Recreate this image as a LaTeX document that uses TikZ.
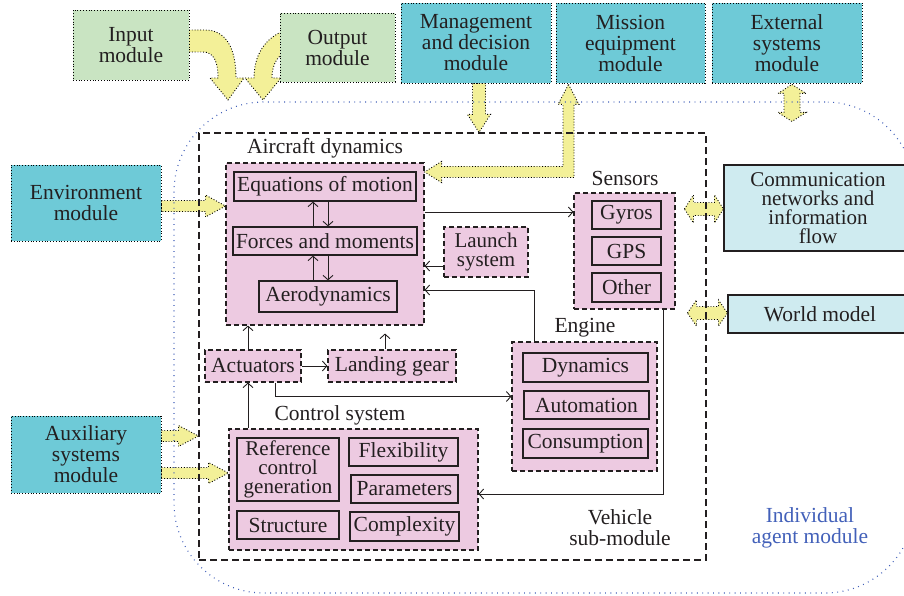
\documentclass[tikz,border=0pt]{standalone}
\usepackage{fontspec}
\setmainfont{Liberation Serif}
\usetikzlibrary{arrows.meta,calc,backgrounds}
\definecolor{modteal}{RGB}{110,202,215}
\definecolor{modgreen}{RGB}{201,228,194}
\definecolor{netblue}{RGB}{207,235,240}
\definecolor{subpink}{RGB}{237,202,225}
\definecolor{fatyellow}{RGB}{243,240,152}
\definecolor{agentblue}{RGB}{66,96,185}
\definecolor{ink}{RGB}{35,31,32}

\tikzset{
  every node/.style={font=\fontsize{21.5}{21}\selectfont, text=ink, align=center, inner sep=0pt},
  sz/.style 2 args={minimum width=#1pt, minimum height=#2pt},
  module/.style={fill=#1, draw=black, line width=0.9pt, dash pattern=on 0.9pt off 1.9pt},
  netbox/.style={fill=netblue, draw=ink, line width=1.1pt},
  group/.style={fill=subpink, draw=ink, line width=1.1pt, dash pattern=on 5pt off 3pt},
  part/.style={fill=subpink, draw=ink, line width=1.2pt},
  vehiclebox/.style={draw=ink, line width=1.1pt, dash pattern=on 7pt off 4pt},
  agentbox/.style={draw=agentblue, line width=1.1pt, dash pattern=on 0.9pt off 4.5pt, rounded corners=90pt},
  fat/.style={fill=fatyellow, draw=black, line width=0.9pt, dash pattern=on 0.9pt off 1.9pt},
  arr/.style={draw=ink, line width=0.9pt, -{Straight Barb[length=4.5pt,width=10pt]}},
  tight/.style={font=\fontsize{21}{19}\selectfont},
}

% broad yellow arrows: #1 start, #2 end, #3 half shaft, #4 half head, #5 head length
\newcommand\fatright[5]{\draw[fat] let \p1=#1, \p2=#2 in
  (\x1,\y1+#3) -- (\x2-#5,\y1+#3) -- (\x2-#5,\y1+#4) -- (\x2,\y1)
  -- (\x2-#5,\y1-#4) -- (\x2-#5,\y1-#3) -- (\x1,\y1-#3) -- cycle;}
\newcommand\fatdown[5]{\draw[fat] let \p1=#1, \p2=#2 in
  (\x1-#3,\y1) -- (\x1-#3,\y2+#5) -- (\x1-#4,\y2+#5) -- (\x1,\y2)
  -- (\x1+#4,\y2+#5) -- (\x1+#3,\y2+#5) -- (\x1+#3,\y1) -- cycle;}
\newcommand\fatboth[5]{\draw[fat] let \p1=#1, \p2=#2 in
  (\x1,\y1) -- (\x1+#5,\y1+#4) -- (\x1+#5,\y1+#3) -- (\x2-#5,\y1+#3)
  -- (\x2-#5,\y1+#4) -- (\x2,\y1) -- (\x2-#5,\y1-#4) -- (\x2-#5,\y1-#3)
  -- (\x1+#5,\y1-#3) -- (\x1+#5,\y1-#4) -- cycle;}
\newcommand\fatupdown[5]{\draw[fat] let \p1=#1, \p2=#2 in
  (\x1,\y1) -- (\x1+#4,\y1-#5) -- (\x1+#3,\y1-#5) -- (\x1+#3,\y2+#5)
  -- (\x1+#4,\y2+#5) -- (\x1,\y2) -- (\x1-#4,\y2+#5) -- (\x1-#3,\y2+#5)
  -- (\x1-#3,\y1-#5) -- (\x1-#4,\y1-#5) -- cycle;}

\begin{document}
\begin{tikzpicture}[x=1pt,y=-1pt]
\useasboundingbox (0,0) rectangle (904,596);

% outer agent frame and the panels cut by the right edge
\begin{scope}
  \clip (0,0) rectangle (904,596);
  \node[agentbox, sz={741}{491}] (agent) at (544.5,347.5) {};
  \node[netbox, sz={188}{86}, tight] (comm) at (818,208) {Communication\\networks and\\information\\flow};
  \node[netbox, sz={184}{38}] (world) at (820,314) {World model};
\end{scope}
\node[text=agentblue] (agentlabel) at (810,528) {Individual\\agent module};

% vehicle sub-module frame
\node[vehiclebox, sz={507}{427}] (vehicle) at (452.5,346.5) {};
\node (vehiclelabel) at (620,528) {Vehicle\\sub-module};

% surrounding modules
\node[module=modgreen, sz={116}{70}] (input) at (131,45) {Input\\module};
\node[module=modgreen, sz={115}{69}] (output) at (337.5,47.5) {Output\\module};
\node[module=modteal, sz={150}{80}] (mgmt) at (476,43) {Management\\and decision\\module};
\node[module=modteal, sz={149}{80}] (mission) at (630.5,43) {Mission\\equipment\\module};
\node[module=modteal, sz={150}{80}] (external) at (787,43) {External\\systems\\module};
\node[module=modteal, sz={150}{76}] (env) at (86,203) {Environment\\module};
\node[module=modteal, sz={150}{77}] (aux) at (86,454.5) {Auxiliary\\systems\\module};

% aircraft dynamics
\node[group, sz={198}{162}] (aircraft) at (325,244) {};
\node (aircraftlabel) at (325,148) {Aircraft dynamics};
\node[part, sz={182}{29}] (eqm) at (325,186.5) {Equations of motion};
\node[part, sz={184}{28}] (forces) at (325,241) {Forces and moments};
\node[part, sz={138}{31}] (aero) at (328,296.5) {Aerodynamics};
\node[group, sz={84}{50}, tight] (launch) at (486,252) {Launch\\system};

% sensors
\node[group, sz={101}{116}] (sensors) at (624.5,251) {};
\node (sensorslabel) at (625,178) {Sensors};
\node[part, sz={69}{28}] (gyros) at (626.5,215) {Gyros};
\node[part, sz={69}{28}] (gps) at (626.5,251) {GPS};
\node[part, sz={69}{29}] (other) at (626.5,287.5) {Other};

% engine
\node[group, sz={145}{129}] (engine) at (584.5,406.5) {};
\node (enginelabel) at (585,328) {Engine};
\node[part, sz={125}{29}] (dyn) at (585.5,367.5) {Dynamics};
\node[part, sz={125}{28}] (autom) at (586.5,405) {Automation};
\node[part, sz={125}{29}] (cons) at (585.5,443.5) {Consumption};

% actuators and landing gear
\node[group, sz={96}{32}] (actuators) at (253,366) {Actuators};
\node[group, sz={128}{32}] (landing) at (392,366) {Landing gear};

% control system
\node[group, sz={249}{121}] (control) at (353.5,489.5) {};
\node (controllabel) at (340,415) {Control system};
\node[part, sz={102}{63}, tight] (refgen) at (288,469.5) {Reference\\control\\generation};
\node[part, sz={109}{28}] (flex) at (403.5,452) {Flexibility};
\node[part, sz={107}{28}] (params) at (404.5,489) {Parameters};
\node[part, sz={102}{28}] (struct) at (288,525) {Structure};
\node[part, sz={109}{29}] (complex) at (404.5,526.5) {Complexity};

% internal signal flow
\draw[arr] ([xshift=-12pt]forces.north) -- ([xshift=-12pt]forces.north |- eqm.south);
\draw[arr] ([xshift=3pt]eqm.south) -- ([xshift=3pt]eqm.south |- forces.north);
\draw[arr] ([xshift=-12pt]forces.south |- aero.north) -- ([xshift=-12pt]forces.south);
\draw[arr] ([xshift=3pt]forces.south) -- ([xshift=3pt]forces.south |- aero.north);
\draw[arr] ([yshift=-14pt]launch.west) -- ([yshift=-14pt]launch.west -| aircraft.east);
\draw[arr] ([yshift=3pt]aircraft.east |- gyros) -- ([yshift=3pt]sensors.west |- gyros);
\draw[arr] ([xshift=-50.5pt]engine.north) |- ([yshift=-46pt]aircraft.east);
\draw[arr] ([xshift=38.5pt]sensors.south) |- ([yshift=-4.5pt]control.east);
\draw[arr] ([xshift=22pt]actuators.south) |- ([yshift=10pt]engine.west);
\draw[arr] (actuators.east) -- (landing.west);
\draw[arr] ([xshift=-5pt]actuators.north) -- ([xshift=-5pt]actuators.north |- aircraft.south);
\draw[arr, shorten >=8pt] ([xshift=-7pt]landing.north) -- ([xshift=-7pt]landing.north |- aircraft.south);
\draw[arr] ([xshift=-5pt]actuators.south |- control.north) -- ([xshift=-5pt]actuators.south);

% broad yellow flows, underneath the frames
\begin{scope}[on background layer]
  \fatright{([yshift=-3pt]env.east)}{(aircraft.west)}{5.5pt}{11pt}{20pt}
  \fatright{([yshift=18.5pt]aux.east)}{(vehicle.west)}{5.5pt}{10.5pt}{20pt}
  \fatright{([yshift=-18.5pt]aux.east)}{(control.west)}{5.5pt}{10.5pt}{20pt}
  \fatdown{([xshift=3pt]mgmt.south)}{(vehicle.north)}{6.5pt}{11.5pt}{18pt}
  \fatupdown{([xshift=5pt,yshift=-1pt]external.south)}{([xshift=5pt,yshift=-38pt]external.south)}{8pt}{14pt}{9pt}
  \fatboth{([xshift=-39pt,yshift=-1pt]comm.west)}{([yshift=-1pt]comm.west)}{6.5pt}{14pt}{9pt}
  \fatboth{([xshift=-40pt,yshift=1pt]world.west)}{([yshift=1pt]world.west)}{6.5pt}{13pt}{9pt}
  % mission equipment <-> aircraft dynamics
  \draw[fat] let \p1=([xshift=-62pt,yshift=-1pt]mission.south), \p2=([yshift=72pt]aircraft.east) in
    (\x1,\y1) -- (\x1+10.5pt,\y1-20pt) -- (\x1+5.5pt,\y1-20pt) -- (\x1+5.5pt,\y2-5.5pt)
    -- (\x2+17pt,\y2-5.5pt) -- (\x2+17pt,\y2-10.5pt) -- (\x2,\y2) -- (\x2+17pt,\y2+10.5pt)
    -- (\x2+17pt,\y2+5.5pt) -- (\x1-5.5pt,\y2+5.5pt) -- (\x1-5.5pt,\y1-20pt)
    -- (\x1-10.5pt,\y1-20pt) -- cycle;
  % curved input and output flows
  \draw[fat] (189,30) -- (205,30) .. controls (226,30) and (236,48) .. (236,78)
    -- (244,78) -- (228,100) -- (210,78) -- (218,78)
    .. controls (218,62) and (214,52) .. (203,52) -- (189,52) -- cycle;
  \draw[fat] (281,32) .. controls (264,40) and (254,56) .. (254,78)
    -- (245,78) -- (263,100) -- (281,78) -- (272,78)
    .. controls (272,68) and (275,60) .. (281,55) -- cycle;
\end{scope}
\end{tikzpicture}
\end{document}
